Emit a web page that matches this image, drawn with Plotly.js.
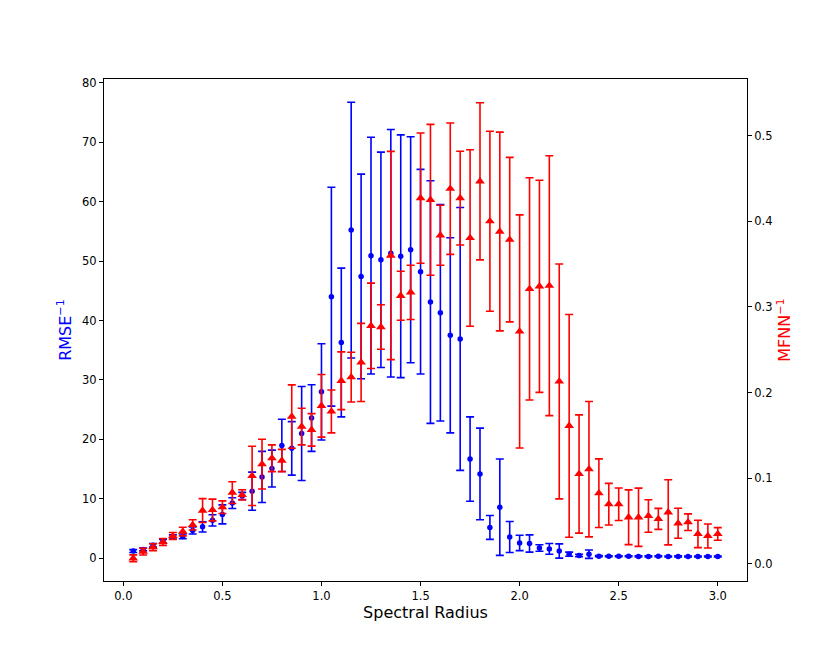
<!DOCTYPE html>
<html>
<head>
<meta charset="utf-8">
<script src="https://cdn.plot.ly/plotly-3.0.1.min.js"></script>
<style>html,body{margin:0;padding:0;background:#fff;}#chart{width:830px;height:664px;}</style>
</head>
<body>
<div id="chart"></div>
<script>
// Spectral radius values
const spectralRadius = [0.05,0.10,0.15,0.20,0.25,0.30,0.35,0.40,0.45,0.50,
  0.55,0.60,0.65,0.70,0.75,0.80,0.85,0.90,0.95,1.00,
  1.05,1.10,1.15,1.20,1.25,1.30,1.35,1.40,1.45,1.50,
  1.55,1.60,1.65,1.70,1.75,1.80,1.85,1.90,1.95,2.00,
  2.05,2.10,2.15,2.20,2.25,2.30,2.35,2.40,2.45,2.50,
  2.55,2.60,2.65,2.70,2.75,2.80,2.85,2.90,2.95,3.00];

// RMSE^-1 (left axis)
const rmseInv = [1.23,1.51,2.2,2.9,3.6,3.7,4.7,5.3,6.4,7.4,
  9.3,10.5,11.3,13.7,15.1,19.0,18.5,21.0,23.6,28.0,
  44.0,36.3,55.2,47.4,50.9,50.2,51.3,50.8,51.9,48.2,
  43.1,41.3,37.5,36.9,16.7,14.2,5.2,8.6,3.6,2.6,
  2.5,1.75,1.6,1.25,0.7,0.5,0.7,0.38,0.36,0.35,
  0.35,0.34,0.34,0.35,0.33,0.34,0.33,0.33,0.33,0.32];
const rmseInvErr = [0.25,0.25,0.3,0.3,0.35,0.4,0.6,0.85,0.95,1.6,
  0.9,0.6,3.2,4.3,3.1,4.4,4.5,7.9,5.6,8.1,
  18.4,12.5,21.5,17.2,19.9,18.1,20.8,20.4,19.0,17.2,
  20.4,18.2,16.4,22.1,7.1,7.7,2.0,8.1,2.6,1.3,
  1.45,0.55,0.9,1.2,0.35,0.2,0.7,0.08,0.08,0.08,
  0.08,0.08,0.08,0.08,0.08,0.08,0.08,0.08,0.08,0.08];

// MFNN^-1 (right axis)
const mfnnInv = [0.0066,0.0144,0.0195,0.0257,0.0327,0.0378,0.0456,0.0623,0.063,0.0662,
  0.0833,0.0806,0.1028,0.1165,0.1234,0.1207,0.172,0.1604,0.1565,0.1846,
  0.178,0.2138,0.218,0.2352,0.278,0.2765,0.360,0.313,0.317,0.427,
  0.425,0.3836,0.438,0.427,0.3805,0.4466,0.400,0.388,0.3785,0.2714,
  0.321,0.324,0.3248,0.213,0.1612,0.105,0.1106,0.0826,0.0697,0.0697,
  0.0545,0.0545,0.056,0.0526,0.0603,0.0475,0.0487,0.035,0.0327,0.035];
const mfnnInvErr = [0.004,0.004,0.004,0.004,0.004,0.005,0.006,0.014,0.0127,0.0074,
  0.0127,0.006,0.0345,0.029,0.0156,0.013,0.037,0.0214,0.019,0.0366,
  0.025,0.0337,0.029,0.0456,0.0498,0.026,0.1215,0.0286,0.0317,0.076,
  0.088,0.035,0.0767,0.0547,0.103,0.0917,0.105,0.116,0.096,0.136,
  0.1297,0.1238,0.1517,0.137,0.130,0.069,0.079,0.040,0.0243,0.019,
  0.032,0.034,0.019,0.0123,0.038,0.0175,0.0097,0.016,0.014,0.0074];

// Tick values
const xTicks = [0.0,0.5,1.0,1.5,2.0,2.5,3.0];
const yLeftTicks = [0,10,20,30,40,50,60,70,80];
const yRightTicks = [0.0,0.1,0.2,0.3,0.4,0.5];

const FONT = 'DejaVu Sans, sans-serif';

const traces = [
  {
    x: spectralRadius, y: rmseInv, type: 'scatter', mode: 'markers',
    marker: {color: '#0000ff', size: 5.5, symbol: 'circle'},
    error_y: {type: 'data', array: rmseInvErr, visible: true, color: '#0000ff', thickness: 1.6, width: 4},
    yaxis: 'y', showlegend: false, hoverinfo: 'skip'
  },
  {
    x: spectralRadius, y: mfnnInv, type: 'scatter', mode: 'markers',
    marker: {color: '#ff0000', size: 8.5, symbol: 'triangle-up'},
    error_y: {type: 'data', array: mfnnInvErr, visible: true, color: '#ff0000', thickness: 1.6, width: 4},
    yaxis: 'y2', showlegend: false, hoverinfo: 'skip'
  }
];

const layout = {
  width: 830, height: 664,
  paper_bgcolor: '#ffffff', plot_bgcolor: '#ffffff',
  margin: {l: 104, r: 83, t: 79, b: 83, pad: 0},
  font: {family: FONT, size: 11, color: '#000'},
  showlegend: false,
  xaxis: {
    range: [-0.0975, 3.1475], tickvals: xTicks, tickformat: '.1f',
    ticks: 'outside', ticklen: 4, tickwidth: 1, tickcolor: '#000',
    showline: true, linecolor: '#000', linewidth: 1, mirror: true,
    showgrid: false, zeroline: false, automargin: false,
    tickfont: {family: FONT, size: 11.5, color: '#000'},
    title: {text: 'Spectral Radius', font: {family: FONT, size: 16, color: '#000'}, standoff: 4}
  },
  yaxis: {
    range: [-3.8, 80.6], tickvals: yLeftTicks,
    ticks: 'outside', ticklen: 4, tickwidth: 1, tickcolor: '#000',
    showline: true, linecolor: '#000', linewidth: 1, mirror: false,
    showgrid: false, zeroline: false, automargin: false,
    tickfont: {family: FONT, size: 11.5, color: '#000'},
    title: {text: 'RMSE<sup>−1</sup>', font: {family: FONT, size: 16, color: '#0000ff'}, standoff: 6}
  },
  yaxis2: {
    overlaying: 'y', side: 'right',
    range: [-0.0199, 0.566], tickvals: yRightTicks, tickformat: '.1f',
    ticks: 'outside', ticklen: 4, tickwidth: 1, tickcolor: '#000',
    showline: true, linecolor: '#000', linewidth: 1,
    showgrid: false, zeroline: false, automargin: false,
    tickfont: {family: FONT, size: 11.5, color: '#000'},
    title: {text: 'MFNN<sup>−1</sup>', font: {family: FONT, size: 16, color: '#ff0000'}, standoff: 7}
  }
};

Plotly.newPlot('chart', traces, layout, {staticPlot: true, displayModeBar: false});
</script>
</body>
</html>
